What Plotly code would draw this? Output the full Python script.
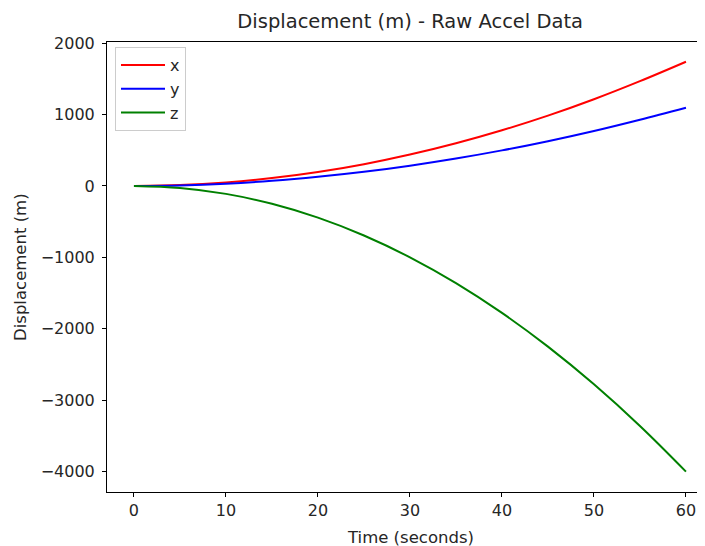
import plotly.graph_objects as go

time_s = [0, 5, 10, 15, 20, 25, 30, 35, 40, 45, 50, 55, 60]
disp_x = [0, 12, 49, 110, 195, 305, 440, 598, 780, 985, 1215, 1468, 1740]
disp_y = [0, 8, 32, 72, 128, 198, 284, 384, 498, 627, 770, 928, 1095]
disp_z = [0, -28, -111, -250, -444, -694, -1000, -1361, -1778, -2250, -2778, -3361, -4000]
x_ticks = [0, 10, 20, 30, 40, 50, 60]
y_ticks = [-4000, -3000, -2000, -1000, 0, 1000, 2000]

font_family = "DejaVu Sans"
text_color = "#262626"
OFF = 8  # page body margin in the browser

fig = go.Figure()
for name, vals, col in [("x", disp_x, "red"), ("y", disp_y, "blue"), ("z", disp_z, "green")]:
    fig.add_trace(go.Scatter(x=time_s, y=vals, mode="lines", name=name,
                             line=dict(color=col, width=2, shape="spline", smoothing=1.0)))

W, H = 705 - OFF, 546 - OFF
fig.update_layout(
    width=W, height=H,
    margin=dict(l=107 - OFF, r=0, t=42 - OFF, b=546 - 492, autoexpand=False),
    paper_bgcolor="white", plot_bgcolor="white",
    font=dict(family=font_family, size=16, color=text_color),
    title=dict(text="Displacement (m) - Raw Accel Data", x=0.507, xref="paper",
               y=1 - (21 - OFF) / H, yref="container", xanchor="center", yanchor="middle",
               font=dict(size=19.5, color=text_color)),
    showlegend=True,
    legend=dict(x=(115 - 107) / 598, y=1 - (47 - 42) / 450, xanchor="left", yanchor="top",
                bgcolor="rgba(255,255,255,0.8)", bordercolor="#cccccc", borderwidth=1,
                font=dict(size=16, color=text_color), tracegroupgap=0, itemwidth=44),
    annotations=[
        dict(text="Time (seconds)", xref="paper", yref="paper", x=(410 - 107) / 598,
             y=-(537 - 492) / 450, xanchor="center", yanchor="middle", showarrow=False,
             font=dict(size=16.5, color=text_color)),
        dict(text="Displacement (m)", xref="paper", yref="paper", x=-(107 - 20) / 598,
             y=(492 - 267) / 450, xanchor="center", yanchor="middle", showarrow=False,
             textangle=-90, font=dict(size=16.5, color=text_color)),
    ],
)
fig.update_xaxes(
    range=[-2.93, 62.07], tickmode="array", tickvals=x_ticks, automargin=False,
    showgrid=False, zeroline=False, showline=True, linecolor="black", linewidth=1,
    mirror=True, ticks="outside", ticklen=4, tickcolor="black", tickwidth=1,
)
fig.update_yaxes(
    range=[-4286, 2016], tickmode="array", tickvals=y_ticks, automargin=False,
    showgrid=False, zeroline=False, showline=True, linecolor="black", linewidth=1,
    mirror=False, ticks="outside", ticklen=4, tickcolor="black", tickwidth=1,
    ticklabelstandoff=4,
)

fig.write_html("out.html", config={"displayModeBar": False})
